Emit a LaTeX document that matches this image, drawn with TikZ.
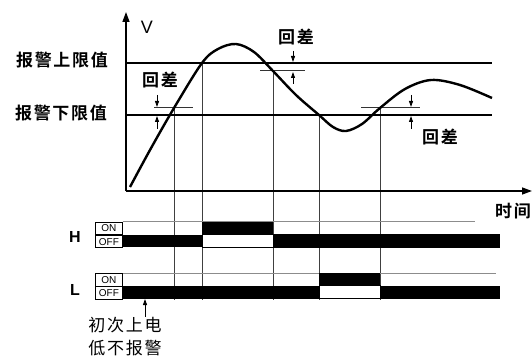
\documentclass[tikz,border=0pt]{standalone}
\usepackage{fontspec}
\setsansfont{Liberation Sans}
\newfontfamily\cjk[LetterSpace=10,BoldFont={Noto Sans CJK SC Bold}]{Noto Sans CJK SC}
\usetikzlibrary{arrows.meta}
\tikzset{
    axis/.style={line width=1.4pt, -{Triangle[length=10pt,width=7pt]}},
    limit/.style={line width=1.1pt},
    guide/.style={line width=0.8pt, black!75},
    hyst/.style={line width=1pt, black!80},
    dim/.style={line width=0.9pt, -{Triangle[length=6pt,width=4pt]}},
    curve/.style={line width=2.4pt, line join=round},
    onlevel/.style={line width=0.7pt, black!45},
    gapbox/.style={draw, line width=0.8pt, fill=white},
    tag/.style={font=\cjk\bfseries\fontsize{17}{17}\selectfont, inner sep=0pt},
    note/.style={font=\cjk\fontsize{17}{17}\selectfont, inner sep=0pt},
    sig/.style={font=\sffamily\bfseries\fontsize{16}{16}\selectfont, inner sep=0pt},
    state/.style={draw, line width=0.9pt, font=\sffamily\fontsize{10}{10}\selectfont, inner sep=0pt, minimum width=27pt, minimum height=12.5pt},
}

\begin{document}
\begin{tikzpicture}[x=1pt, y=-1pt]
    \useasboundingbox (0,0) rectangle (532,358);

    % guide lines down to the relay rows
    \draw[guide] (174,108) -- (174,300);
    \draw[guide] (202,63) -- (202,300);
    \draw[guide] (273,71) -- (273,300);
    \draw[guide] (319,115) -- (319,300);
    \draw[guide] (380,108) -- (380,300);

    % axes
    \coordinate (origin) at (126,191);
    \coordinate (vtop) at (126,12);
    \coordinate (tend) at (532,191);
    \draw[axis] (origin) -- (vtop);
    \draw[axis] (origin) -- (tend);
    \node[sig, font=\sffamily\fontsize{18}{18}\selectfont] (v) at (147,27) {V};
    \node[tag] (time) at (513,211) {时间};

    % limits
    \node[tag] (upper) at (62,60) {报警上限值};
    \node[tag] (lower) at (61,113) {报警下限值};
    \draw[limit] (126,63) -- (492,63);
    \draw[limit] (126,115) -- (492,115);

    % hysteresis marks
    \draw[hyst] (154,108) -- (193,108);
    \draw[hyst] (260,71) -- (305,71);
    \draw[hyst] (361,108) -- (420,108);
    \draw[dim] (157,95) -- (157,107);
    \draw[dim] (157,129) -- (157,116);
    \draw[dim] (293,51) -- (293,62);
    \draw[dim] (293,84) -- (293,72);
    \draw[dim] (411,95) -- (411,107);
    \draw[dim] (411,129) -- (411,116);
    \node[tag] (hys1) at (160,80) {回差};
    \node[tag] (hys2) at (296,37) {回差};
    \node[tag] (hys3) at (440,137) {回差};

    % measured value
    \draw[curve] plot[smooth, tension=0.55] coordinates {
        (130,187) (150,150) (174,108) (202,63) (218,49) (236,44) (254,52)
        (273,71) (296,95) (319,115) (333,127) (346,131) (362,124) (380,108)
        (405,89) (431,80) (460,85) (492,98)};

    % relay H
    \node[sig] (h) at (75,237) {H};
    \node[state, anchor=north west] (hon) at (95,221.5) {ON};
    \node[state, anchor=north] (hoff) at (hon.south) {OFF};
    \draw[onlevel] (hon.north east) -- (475,221.5);
    \fill (hoff.north east) rectangle (202,247);
    \fill (202,221.5) rectangle (273,234);
    \draw[gapbox] (202,234) rectangle (273,247);
    \fill (273,234) rectangle (500,248);

    % relay L
    \node[sig] (l) at (75,290) {L};
    \node[state, anchor=north west] (lon) at (95,273) {ON};
    \node[state, anchor=north] (loff) at (lon.south) {OFF};
    \draw[onlevel] (lon.north east) -- (496,273);
    \fill (loff.north east) rectangle (319,298.5);
    \fill (319,273) rectangle (380,285.5);
    \draw[gapbox] (319,285.5) rectangle (380,298.5);
    \fill (380,285.5) rectangle (500,298.5);

    % power-on note
    \node[note] (first) at (125,325) {初次上电};
    \node[note] (first2) at (125,348) {低不报警};
    \coordinate (poweron) at (145,299);
    \draw[dim] (first.north -| poweron) -- (poweron);
\end{tikzpicture}
\end{document}
